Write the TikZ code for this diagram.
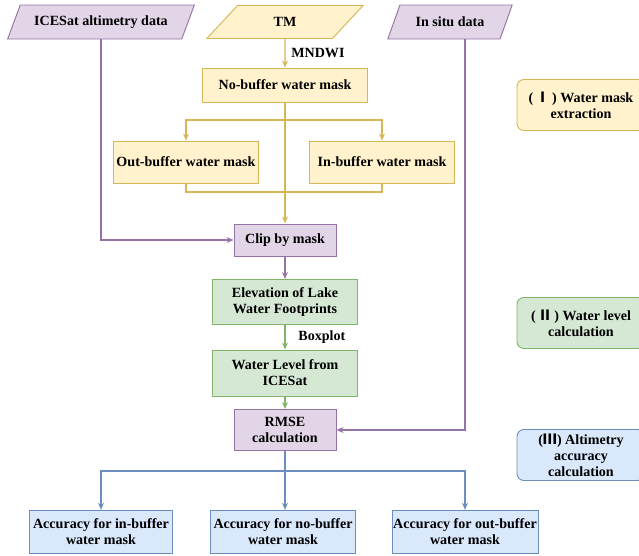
\documentclass[tikz,border=0pt]{standalone}
\usepackage{fontspec}
\setmainfont{Liberation Serif}
\newfontfamily\cjk{Noto Sans CJK SC}
\usepackage{tikz}
\usetikzlibrary{shapes.geometric, arrows.meta}
\definecolor{vainilla}{HTML}{FFF2CC}
\definecolor{ocre}{HTML}{D6B656}
\definecolor{lavanda}{HTML}{E1D5E7}
\definecolor{ciruela}{HTML}{9673A6}
\definecolor{menta}{HTML}{D5E8D4}
\definecolor{hoja}{HTML}{82B366}
\definecolor{cielo}{HTML}{DAE8FC}
\definecolor{acero}{HTML}{6C8EBF}
\tikzset{
    txt/.style={font=\fontsize{12}{13.5}\selectfont\bfseries, text=black, align=center, inner sep=1pt},
    datain/.style={txt, trapezium, trapezium left angle=55, trapezium right angle=125, trapezium stretches=true, line width=0.8pt, minimum height=1.02cm},
    maskbox/.style={txt, draw=ocre, fill=vainilla, line width=0.8pt},
    clipbox/.style={txt, draw=ciruela, fill=lavanda, line width=0.8pt},
    levelbox/.style={txt, draw=hoja, fill=menta, line width=0.8pt},
    accbox/.style={txt, draw=acero, fill=cielo, line width=0.8pt},
    stage/.style={txt, rounded corners=6pt, line width=0.8pt, minimum width=3.84cm, minimum height=1.53cm},
    yconn/.style={ocre, line width=0.9pt},
    pconn/.style={ciruela, line width=0.9pt},
    gconn/.style={hoja, line width=0.9pt},
    bconn/.style={acero, line width=0.9pt},
    tip/.style={-{Stealth[length=6pt, width=5pt]}},
}

\begin{document}
\begin{tikzpicture}[x=0.03cm, y=-0.03cm]
            \useasboundingbox (0,0) rectangle (639,555);
            \clip (0,0) rectangle (639,555);

            % inputs
            \node[datain, draw=ciruela, fill=lavanda, minimum width=5.61cm] (icesat) at (101,22) {ICESat altimetry data};
            \node[datain, draw=ocre, fill=vainilla, minimum width=4.7cm, minimum height=0.99cm] (tm) at (285,22) {TM};
            \node[datain, draw=ciruela, fill=lavanda, minimum width=3.75cm] (insitu) at (450,22) {In situ data};

            % water mask extraction
            \node[maskbox, minimum width=4.95cm, minimum height=1.02cm] (nobuf) at (285,85) {No-buffer water mask};
            \node[maskbox, minimum width=4.35cm, minimum height=1.26cm] (outbuf) at (186,162) {Out-buffer water mask};
            \node[maskbox, minimum width=4.35cm, minimum height=1.26cm] (inbuf) at (382,162) {In-buffer water mask};
            \coordinate (split) at (285,120);
            \coordinate (join) at (285,192);

            % water level calculation
            \node[clipbox, minimum width=3.06cm, minimum height=0.96cm] (clip) at (285,240) {Clip by mask};
            \node[levelbox, minimum width=4.35cm, minimum height=1.35cm] (elev) at (285,302) {Elevation of Lake\\Water Footprints};
            \node[levelbox, minimum width=4.35cm, minimum height=1.38cm] (wlevel) at (285,373) {Water Level from\\ICESat};

            % accuracy
            \node[clipbox, minimum width=3.06cm, minimum height=1.23cm] (rmse) at (285,430) {RMSE\\calculation};
            \coordinate (fork) at (285,471);
            \node[accbox, minimum width=4.29cm, minimum height=1.3cm] (accin) at (101,532) {Accuracy for in-buffer\\water mask};
            \node[accbox, minimum width=4.35cm, minimum height=1.3cm] (accno) at (283,532) {Accuracy for no-buffer\\water mask};
            \node[accbox, minimum width=4.29cm, minimum height=1.3cm] (accout) at (465,532) {Accuracy for out-buffer\\water mask};

            % stage boxes
            \node[stage, draw=ocre, fill=vainilla] (stA) at (581,105) {(\,{\cjk Ⅰ}\,) Water mask\\extraction};
            \node[stage, draw=hoja, fill=menta] (stB) at (581,323) {(\,{\cjk Ⅱ}\,) Water level\\calculation};
            \node[stage, draw=acero, fill=cielo] (stC) at (581,455) {({\cjk Ⅲ}) Altimetry\\accuracy\\calculation};

            \draw[yconn, tip] (tm) -- node[txt, right=4pt] (mndwi) {MNDWI} (nobuf);
            \draw[yconn, tip] (nobuf) -- (clip);
            \draw[yconn, tip] (split) -| (outbuf);
            \draw[yconn, tip] (split) -| (inbuf);
            \draw[yconn] (outbuf.south) |- (join) -| (inbuf.south);
            \draw[pconn, tip] (icesat) |- (clip);
            \draw[pconn, tip] (clip) -- (elev);
            \draw[gconn, tip] (elev) -- node[txt, right=10pt] (boxplot) {Boxplot} (wlevel);
            \draw[gconn, tip] (wlevel) -- (rmse);
            \draw[pconn, tip] ([xshift=0.45cm]insitu.south) |- (rmse);
            \draw[bconn, tip] (rmse) -- (rmse |- accno.north);
            \draw[bconn, tip] (fork) -| (accin);
            \draw[bconn, tip] (fork) -| (accout);
        \end{tikzpicture}
\end{document}
